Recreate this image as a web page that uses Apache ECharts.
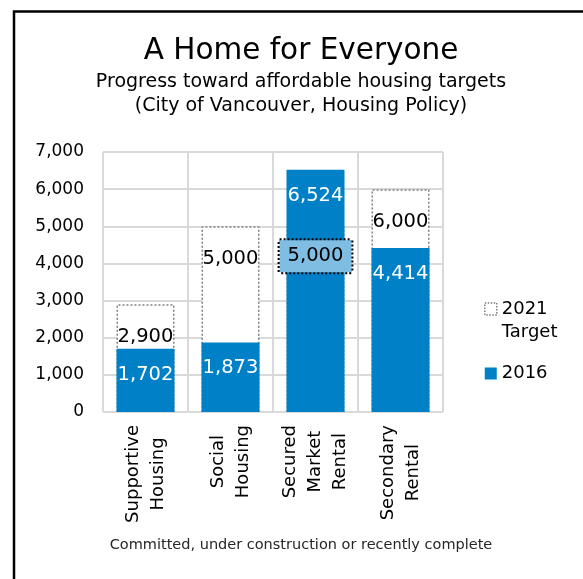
<!DOCTYPE html>
<html>
<head>
<meta charset="utf-8">
<script src="https://cdn.jsdelivr.net/npm/echarts@6/dist/echarts.min.js"></script>
<style>
html,body{margin:0;padding:0;background:#fff;}
#chart{width:583px;height:579px;}
</style>
</head>
<body>
<div id="chart"></div>
<script>
const categories = ['Supportive\nHousing', 'Social\nHousing', 'Secured\nMarket\nRental', 'Secondary\nRental'];
const values2016 = [1702, 1873, 6524, 4414];
const targets2021 = [2900, 5000, 5000, 6000];
const seriesNames = ['2021\nTarget', '2016'];
const yMin = 0, yMax = 7000, yStep = 1000;

const FONT = 'DejaVu Sans';
const BLUE = '#0080C6';
const fmt = v => Number(v).toLocaleString('en-US');

const chart = echarts.init(document.getElementById('chart'), null, {renderer: 'canvas'});

const targetData = targets2021.map((v, i) => {
  if (i === 2) {
    return {
      value: v,
      label: {
        distance: 14,
        backgroundColor: '#80BDE3',
        borderColor: '#000',
        borderWidth: 2,
        borderType: [2, 2],
        padding: [6, 8, 6, 8]
      }
    };
  }
  return v;
});

chart.setOption({
  backgroundColor: '#fff',
  animation: false,
  title: [
    {
      text: 'A Home for Everyone',
      subtext: 'Progress toward affordable housing targets\n(City of Vancouver, Housing Policy)',
      left: 301,
      top: 34,
      textAlign: 'center',
      padding: 0,
      itemGap: 2,
      textStyle: {fontFamily: FONT, fontSize: 29.5, fontWeight: 'normal', color: '#000', lineHeight: 34},
      subtextStyle: {fontFamily: FONT, fontSize: 19, color: '#000', lineHeight: 24}
    },
    {
      text: 'Committed, under construction or recently complete',
      left: 301,
      top: 536,
      textAlign: 'center',
      padding: 0,
      textStyle: {fontFamily: FONT, fontSize: 14.5, fontWeight: 'normal', color: '#262626', lineHeight: 18}
    }
  ],
  graphic: [
    {
      type: 'rect',
      shape: {x: 14, y: 11.5, width: 800, height: 800},
      style: {fill: 'none', stroke: '#000', lineWidth: 2.5},
      silent: true
    }
  ],
  legend: {
    orient: 'vertical',
    left: 484,
    top: 274.5,
    padding: 0,
    itemWidth: 12,
    itemHeight: 12,
    itemGap: 18.5,
    icon: 'rect',
    data: [
      {name: seriesNames[0], itemStyle: {color: '#fff', borderColor: '#7F7F7F', borderWidth: 1.5, borderType: [1.5, 1.5]}},
      {name: seriesNames[1]}
    ],
    formatter: name => (name.indexOf('\n') >= 0 ? '\n' + name : name),
    textStyle: {fontFamily: FONT, fontSize: 18, color: '#000', lineHeight: 23}
  },
  grid: {left: 103, right: 140, top: 152, bottom: 167, containLabel: false},
  xAxis: {
    type: 'category',
    data: categories,
    axisLine: {show: false},
    axisTick: {show: false},
    splitLine: {show: true, interval: 0, lineStyle: {color: '#D9D9D9', width: 2}},
    axisLabel: {
      interval: 0,
      rotate: 90,
      margin: 13,
      formatter: v => v.split('\n').map(s => '{c|' + s + '}').join('\n'),
      rich: {c: {align: 'center', fontFamily: FONT, fontSize: 18, lineHeight: 25, color: '#000'}}
    }
  },
  yAxis: {
    type: 'value',
    min: yMin,
    max: yMax,
    interval: yStep,
    axisLine: {show: false},
    axisTick: {show: false},
    splitLine: {show: true, lineStyle: {color: '#D9D9D9', width: 2}},
    axisLabel: {margin: 19, fontFamily: FONT, fontSize: 17, color: '#000', formatter: v => fmt(v)}
  },
  series: [
    {
      name: seriesNames[0],
      type: 'bar',
      data: targetData,
      barWidth: 58,
      barGap: '-100%',
      itemStyle: {color: '#fff', borderColor: '#7F7F7F', borderWidth: 1.5, borderType: [2, 2]},
      label: {
        show: true,
        position: 'insideTop',
        distance: 23,
        fontFamily: FONT,
        fontSize: 19.5,
        lineHeight: 20,
        color: '#000',
        formatter: p => fmt(p.value)
      },
      z: 2
    },
    {
      name: seriesNames[1],
      type: 'bar',
      data: values2016,
      barWidth: 58,
      barGap: '-100%',
      itemStyle: {color: BLUE},
      label: {
        show: true,
        position: 'insideTop',
        distance: 16,
        fontFamily: FONT,
        fontSize: 19.5,
        lineHeight: 20,
        color: '#fff',
        formatter: p => fmt(p.value)
      },
      z: 2
    }
  ]
});
</script>
</body>
</html>
